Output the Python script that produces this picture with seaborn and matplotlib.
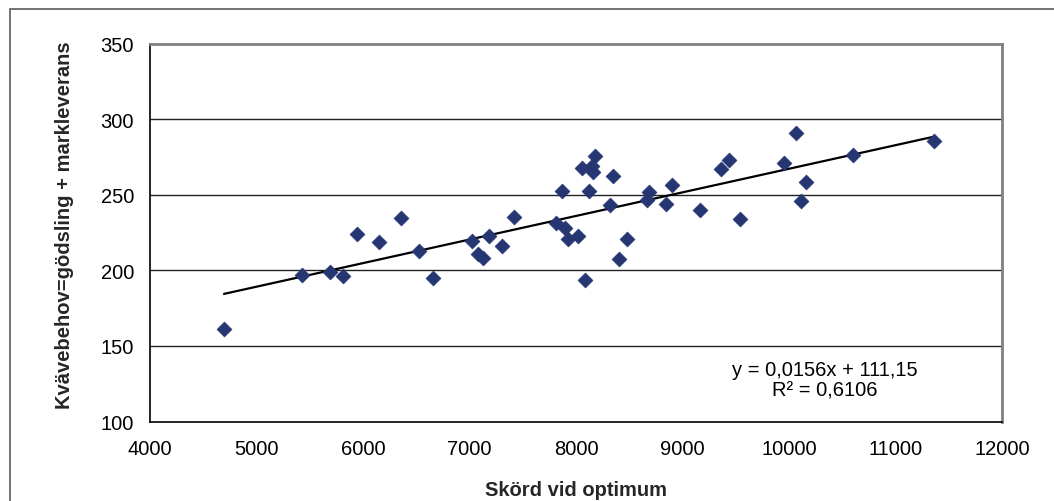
import numpy as np
import pandas as pd
import matplotlib
matplotlib.use("Agg")
import matplotlib.pyplot as plt
import seaborn as sns
from matplotlib.patches import Rectangle

# ---- data ----
skord = [4695, 5430, 5693, 5809, 5946, 6150, 6357, 6529, 6661,
         7020, 7076, 7130, 7183, 7301, 7420, 7812, 7869, 7897, 7922,
         8021, 8052, 8146, 8177, 8162, 8089, 8122, 8322, 8351, 8408,
         8476, 8663, 8688, 8841, 8906, 9164,
         9361, 9440, 9540, 9953, 10063, 10110, 10160, 10603, 11362]
kvavebehov = [161.1, 196.8, 198.6, 196.0, 224.2, 218.9, 234.5, 212.9, 194.6,
              219.5, 210.7, 207.9, 222.9, 215.8, 235.5, 231.1, 252.4, 228.0, 220.6,
              222.5, 267.6, 269.2, 275.8, 265.2, 193.5, 252.6, 243.3, 262.6, 207.4,
              220.6, 246.6, 252.0, 243.8, 256.3, 240.1,
              266.9, 273.1, 233.9, 271.1, 290.7, 246.0, 258.6, 276.2, 285.4]
trend_slope = 0.0156
trend_intercept = 111.15
eq_text = "y = 0,0156x + 111,15\nR² = 0,6106"
x_ticks = [4000, 5000, 6000, 7000, 8000, 9000, 10000, 11000, 12000]
y_ticks = [100, 150, 200, 250, 300, 350]
x_label = "Skörd vid optimum"
y_label = "Kvävebehov=gödsling + markleverans"

df = pd.DataFrame({"x": skord, "y": kvavebehov})
trend_x = [min(skord), max(skord)]
trend_df = pd.DataFrame({"x": trend_x,
                         "y": [trend_slope * v + trend_intercept for v in trend_x]})

sns.set_style("white")
plt.rcParams["font.family"] = ["Liberation Sans", "DejaVu Sans"]

FS = 14.5
W, H = 1054, 502
fig = plt.figure(figsize=(W / 100, H / 100), dpi=100)
ax = fig.add_axes([150 / W, 1 - 422.5 / H, (1002 - 150) / W, (422.5 - 44.5) / H])

# outer chart border (top and left visible)
fig.patches.append(Rectangle((9.5 / W, -0.05), 1.1, 1 - 10 / H + 0.05,
                             transform=fig.transFigure, fill=False,
                             edgecolor="#5a5a5a", linewidth=1.2, zorder=0))

for yv in [150, 200, 250, 300]:
    ax.axhline(yv, color="#222222", linewidth=1.0, zorder=1)

sns.lineplot(data=trend_df, x="x", y="y", ax=ax, color="black",
             linewidth=1.6, zorder=3)
sns.scatterplot(data=df, x="x", y="y", ax=ax, marker="D", s=60,
                color="#263672", edgecolor="#263672", linewidth=0.3, zorder=4)

ax.set_xlim(4000, 12000)
ax.set_ylim(100, 350)
ax.set_xticks(x_ticks)
ax.set_yticks(y_ticks)
ax.tick_params(axis="both", which="major", direction="out", length=3.6,
               width=1, color="black", labelsize=FS, labelcolor="black")
ax.tick_params(axis="y", pad=8)
ax.tick_params(axis="x", pad=9)
ax.grid(False)

for side in ["left", "bottom"]:
    ax.spines[side].set_color("black")
    ax.spines[side].set_linewidth(1.2)
for side in ["right", "top"]:
    ax.spines[side].set_visible(True)
    ax.spines[side].set_color("#808080")
    ax.spines[side].set_linewidth(2)

ax.set_xlabel(x_label, fontsize=FS, fontweight="bold")
ax.set_ylabel(y_label, fontsize=FS, fontweight="bold")
ax.xaxis.set_label_coords(0.5, -(490 - 422.5) / (422.5 - 44.5))
ax.yaxis.set_label_coords(-(150 - 65) / (1002 - 150), 0.5 + 8 / 378)
ax.xaxis.label.set_va("center")
ax.yaxis.label.set_va("center")

ax.text(10338, 127.4, eq_text, ha="center", va="center", fontsize=FS,
        linespacing=1.1, color="black")

fig.savefig("out.png", dpi=100)
